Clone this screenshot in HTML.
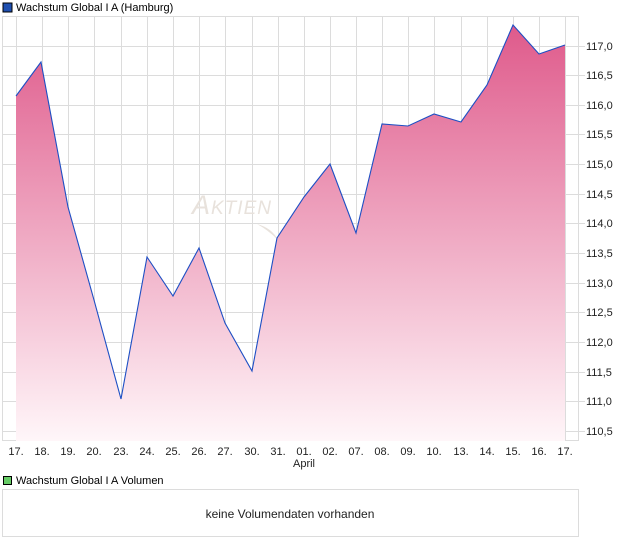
<!DOCTYPE html>
<html><head><meta charset="utf-8"><style>
body{margin:0;background:#fff;width:620px;height:546px;overflow:hidden;font-family:"Liberation Sans",sans-serif}
</style></head><body>
<svg width="620" height="546" xmlns="http://www.w3.org/2000/svg" font-family="Liberation Sans, sans-serif" font-size="11">
<defs><linearGradient id="g" x1="0" y1="0" x2="0" y2="1" gradientUnits="objectBoundingBox">
<stop offset="0" stop-color="#df5a8b"/><stop offset="1" stop-color="#fff6f9"/></linearGradient></defs>
<rect x="3" y="3" width="9" height="9" fill="#1f4fb0" stroke="#000" stroke-width="1"/>
<text x="16" y="11">Wachstum Global I A (Hamburg)</text>
<g stroke="#dcdcdc" stroke-width="1">
<rect x="2.5" y="16.5" width="576" height="424" fill="none"/>
<path d="M16.5 16V441M42.5 16V441M68.5 16V441M94.5 16V441M121.5 16V441M147.5 16V441M173.5 16V441M199.5 16V441M225.5 16V441M252.5 16V441M278.5 16V441M304.5 16V441M330.5 16V441M356.5 16V441M382.5 16V441M408.5 16V441M434.5 16V441M461.5 16V441M487.5 16V441M513.5 16V441M539.5 16V441M565.5 16V441"/>
<path d="M2 46.5H585M2 75.5H585M2 105.5H585M2 134.5H585M2 164.5H585M2 194.5H585M2 223.5H585M2 253.5H585M2 283.5H585M2 312.5H585M2 342.5H585M2 372.5H585M2 401.5H585M2 431.5H585"/>
</g>
<text x="192" y="214" font-size="27" font-style="italic" font-variant="small-caps" fill="#e8e2dc" letter-spacing="1">Aktien</text>
<path d="M257 224 Q272 228 278 240 Q268 230 257 224Z" fill="#e8e2dc"/>
<polygon fill="url(#g)" points="16,441 16,96 41,62 68,207 94,300 121,399 147,257 173,296 199,248 225,323 252,371 277,238 304,197 330,164 356,233 382,124 408,126 434,114 461,122 487,85 513,25 539,54 565,45 565,441"/>
<polyline fill="none" stroke="#1d4fc4" stroke-width="1.1" points="16,96 41,62 68,207 94,300 121,399 147,257 173,296 199,248 225,323 252,371 277,238 304,197 330,164 356,233 382,124 408,126 434,114 461,122 487,85 513,25 539,54 565,45"/>
<g fill="#222">
<text x="586" y="50">117,0</text><text x="586" y="79">116,5</text><text x="586" y="109">116,0</text><text x="586" y="138">115,5</text><text x="586" y="168">115,0</text><text x="586" y="198">114,5</text><text x="586" y="227">114,0</text><text x="586" y="257">113,5</text><text x="586" y="287">113,0</text><text x="586" y="316">112,5</text><text x="586" y="346">112,0</text><text x="586" y="376">111,5</text><text x="586" y="405">111,0</text><text x="586" y="435">110,5</text>
</g>
<g fill="#222" text-anchor="middle">
<text x="16" y="455">17.</text><text x="42" y="455">18.</text><text x="68" y="455">19.</text><text x="94" y="455">20.</text><text x="121" y="455">23.</text><text x="147" y="455">24.</text><text x="173" y="455">25.</text><text x="199" y="455">26.</text><text x="225" y="455">27.</text><text x="252" y="455">30.</text><text x="278" y="455">31.</text><text x="304" y="455">01.</text><text x="330" y="455">02.</text><text x="356" y="455">07.</text><text x="382" y="455">08.</text><text x="408" y="455">09.</text><text x="434" y="455">10.</text><text x="461" y="455">13.</text><text x="487" y="455">14.</text><text x="513" y="455">15.</text><text x="539" y="455">16.</text><text x="565" y="455">17.</text>
<text x="304" y="467">April</text>
</g>
<rect x="3.5" y="476.5" width="8" height="8" fill="#6c6" stroke="#000"/>
<text x="16" y="484">Wachstum Global I A Volumen</text>
<rect x="2.5" y="489.5" width="576" height="47" fill="none" stroke="#dcdcdc"/>
<text x="290" y="518" text-anchor="middle" font-size="12" fill="#222">keine Volumendaten vorhanden</text>
</svg>
</body></html>
